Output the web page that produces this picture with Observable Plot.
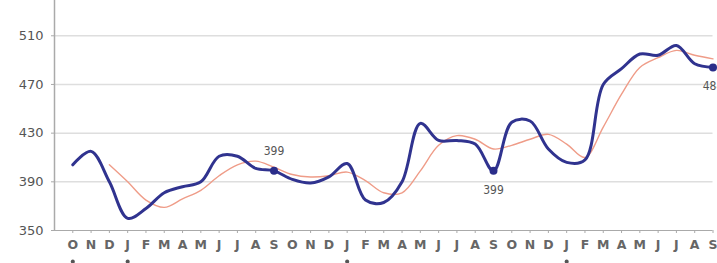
<!DOCTYPE html>
<html><head><meta charset="utf-8">
<script src="https://cdn.jsdelivr.net/npm/d3@7"></script>
<script src="https://cdn.jsdelivr.net/npm/@observablehq/plot@0.6"></script>
<style>html,body{margin:0;padding:0;background:#fff;} svg{display:block}</style>
</head><body><div id="chart"></div>
<script>
const monthLabels = ["O","N","D","J","F","M","A","M","J","J","A","S",
                     "O","N","D","J","F","M","A","M","J","J","A","S",
                     "O","N","D","J","F","M","A","M","J","J","A","S"];
const blueValues = [404,415,390,360,368,381,386,390,411,411,401,399,
                    392,389,394,405,375,373,390,438,424,424,421,399,
                    439,440,417,406,408,470,483,495,494,502,487,484];
const redStartIndex = 2;
const redValues = [404,390,375,369,376,383,395,404,407,402,
                   396,394,395,398,391,381,381,399,420,428,425,417,
                   420,425,429,421,410,435,462,484,492,498,494,491];
const yTicks = [350,390,430,470,510];
const gridValues = [390,430,470,510];
const highlightIndex = [11,23,35];
const highlightSide = ["above","below","below"];
const yearStartIndex = [0,3,15,27];

const blue = blueValues.map((v,i)=>({i, v}));
const red = redValues.map((v,k)=>({i:k+redStartIndex, v}));
const highlights = highlightIndex.map((i,k)=>({i, v: blueValues[i], side: highlightSide[k]}));

const chart = Plot.plot({
  width: 717, height: 263,
  marginLeft: 54, marginRight: 4.5, marginTop: 0, marginBottom: 33,
  x: {domain: [-1, 35], axis: null, label: null},
  y: {domain: [350, 539], axis: null, label: null},
  style: {fontFamily: "'DejaVu Sans', sans-serif", background: "#fff", overflow: "hidden"},
  marks: [
    Plot.ruleY(gridValues, {stroke: "#dedede", strokeWidth: 1.5}),
    Plot.ruleY([350], {stroke: "#aaa", strokeWidth: 1.2}),
    Plot.ruleX([-1], {stroke: "#aaa", strokeWidth: 1.5}),
    Plot.axisY({ticks: yTicks, label: null, tickSize: 3, tickPadding: 8, fontSize: 13, fill: "#555", stroke: "#aaa"}),
    Plot.axisX({ticks: d3.range(monthLabels.length), label: null, tickFormat: i => monthLabels[i],
      tickSize: 3, tickPadding: 7, fontSize: 12.5, fontWeight: "bold", fill: "#666", stroke: "#aaa"}),
    Plot.dot(yearStartIndex, {x: d => d, frameAnchor: "bottom", dy: 31, r: 2, fill: "#555", stroke: null}),
    Plot.line(red, {x: "i", y: "v", stroke: "#ef9c88", strokeWidth: 1.4, curve: "catmull-rom"}),
    Plot.line(blue, {x: "i", y: "v", stroke: "#30338f", strokeWidth: 3, curve: "catmull-rom"}),
    Plot.dot(highlights, {x: "i", y: "v", r: 4, fill: "#2a2d8a", stroke: null}),
    Plot.text(highlights.filter(d => d.side === "above"), {x: "i", y: "v", text: d => String(d.v), dy: -20,
      fontSize: 12, fill: "#555", fontFamily: "'DejaVu Sans Condensed', 'DejaVu Sans', sans-serif"}),
    Plot.text(highlights.filter(d => d.side === "below"), {x: "i", y: "v", text: d => String(d.v), dy: 19,
      fontSize: 12, fill: "#555", fontFamily: "'DejaVu Sans Condensed', 'DejaVu Sans', sans-serif"})
  ]
});
document.getElementById("chart").appendChild(chart);
</script>
</body></html>
